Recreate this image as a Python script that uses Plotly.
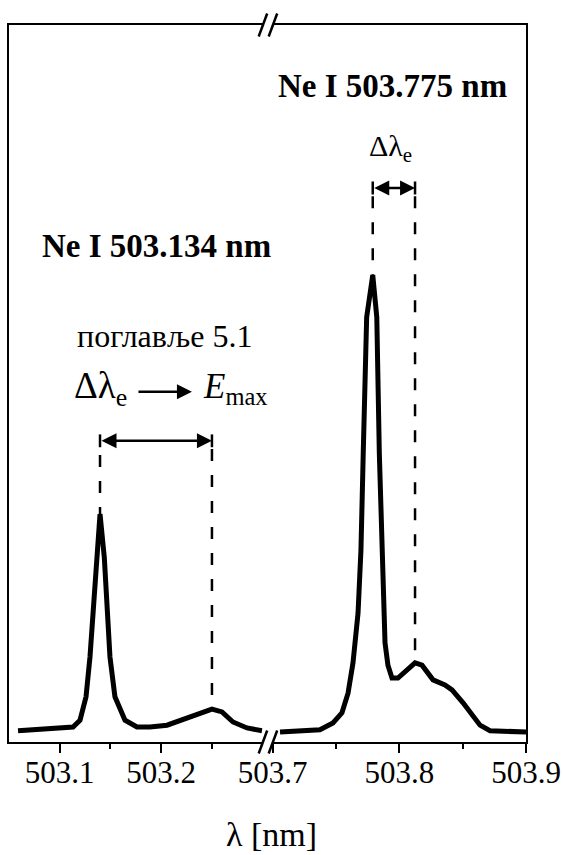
import plotly.graph_objects as go

# ---- data ----
left_wl = [503.0589, 503.0904, 503.1052, 503.1131, 503.1200, 503.1259, 503.1298, 503.1331,
           503.1357, 503.1397, 503.1439, 503.1468, 503.1495, 503.1544, 503.1643, 503.1761,
           503.1889, 503.2057, 503.2254, 503.2411, 503.2500, 503.2599, 503.2707, 503.2845,
           503.2993]
left_int = [0.005, 0.009, 0.011, 0.013, 0.028, 0.079, 0.166, 0.275,
            0.384, 0.478, 0.384, 0.275, 0.166, 0.079, 0.028, 0.013,
            0.013, 0.017, 0.033, 0.046, 0.052, 0.046, 0.024, 0.011,
            0.005]

right_wl = [503.7058, 503.7239, 503.7373, 503.7476, 503.7547, 503.7595, 503.7634, 503.7674,
            503.7697, 503.7715, 503.7742, 503.7790, 503.7822, 503.7842, 503.7871, 503.7887,
            503.7910, 503.7942, 503.7989, 503.8068, 503.8124, 503.8179, 503.8266, 503.8360,
            503.8416, 503.8503, 503.8574, 503.8637, 503.8716, 503.8874, 503.9000]
right_int = [0.002, 0.005, 0.007, 0.022, 0.044, 0.087, 0.153, 0.262,
             0.400, 0.611, 0.908, 1.000, 0.908, 0.611, 0.290, 0.197,
             0.148, 0.120, 0.120, 0.138, 0.153, 0.148, 0.116, 0.105,
             0.094, 0.066, 0.039, 0.017, 0.005, 0.002, 0.002]

left_ticks = [503.1, 503.2]
left_minor = [503.15, 503.25]
right_ticks = [503.7, 503.8, 503.9]
right_minor = [503.75, 503.85]

label_left = "Ne I 503.134 nm"
label_right = "Ne I 503.775 nm"
note_text = "поглавље 5.1"
x_title = "λ [nm]"

# ---- derived positions ----
def local_max(wl, it, lo, hi):
    best = None
    for w, v in zip(wl, it):
        if lo <= w <= hi and (best is None or v > best[1]):
            best = (w, v)
    return best

lp = local_max(left_wl, left_int, 503.05, 503.2)
lb = local_max(left_wl, left_int, 503.2, 503.3)
rp = local_max(right_wl, right_int, 503.7, 503.8)
rb = local_max(right_wl, right_int, 503.8, 503.83)

FONT = "Liberation Serif, Tinos, Times New Roman, DejaVu Serif, serif"
BLACK = "#000000"

fig = go.Figure()
fig.add_trace(go.Scatter(x=left_wl, y=left_int, mode="lines", xaxis="x", yaxis="y",
                         line=dict(color=BLACK, width=5), showlegend=False, hoverinfo="skip"))
fig.add_trace(go.Scatter(x=right_wl, y=right_int, mode="lines", xaxis="x2", yaxis="y2",
                         line=dict(color=BLACK, width=5), showlegend=False, hoverinfo="skip"))

dash = "12px,14px"
arrow_left_y = 0.638
arrow_right_y = 1.19
# dashed guide lines
for (xx, top, bot, xa, ya) in [(lp[0], 0.607, lp[1], "x", "y"),
                               (lb[0], 0.620, lb[1], "x", "y"),
                               (rp[0], 1.172, rp[1], "x2", "y2"),
                               (rb[0], 1.172, rb[1], "x2", "y2")]:
    fig.add_trace(go.Scatter(x=[xx, xx], y=[top, bot], mode="lines", xaxis=xa, yaxis=ya,
                             line=dict(color=BLACK, width=2.5, dash=dash), showlegend=False,
                             hoverinfo="skip"))

# double arrows between guide lines
def dbl_arrow(x0, x1, y, xr, yr):
    fig.add_annotation(x=x1, y=y, ax=x0, ay=y, xref=xr, yref=yr, axref=xr, ayref=yr,
                       text="", showarrow=True, arrowhead=2, arrowside="end+start",
                       arrowsize=1.2, arrowwidth=2.5, arrowcolor=BLACK,
                       standoff=0, startstandoff=0)
    fig.add_trace(go.Scatter(x=[x0, x0, None, x1, x1], y=[y - 0.014, y + 0.014, None, y - 0.014, y + 0.014],
                             mode="lines", xaxis=xr, yaxis=yr,
                             line=dict(color=BLACK, width=2.5), showlegend=False, hoverinfo="skip"))

dbl_arrow(lp[0], lb[0], arrow_left_y, "x", "y")
dbl_arrow(rp[0], rb[0], arrow_right_y, "x2", "y2")

# single arrow  Δλe -> Emax
fig.add_annotation(x=503.2303, y=0.745, ax=503.1761, ay=0.745, xref="x", yref="y",
                   axref="x", ayref="y", text="", showarrow=True, arrowhead=2,
                   arrowsize=1.2, arrowwidth=2.5, arrowcolor=BLACK, standoff=0)

# texts
fig.add_annotation(x=503.1955, y=1.063, xref="x", yref="y", text="<b>%s</b>" % label_left,
                   showarrow=False, font=dict(family=FONT, size=33, color=BLACK))
fig.add_annotation(x=503.7946, y=1.412, xref="x2", yref="y2", text="<b>%s</b>" % label_right,
                   showarrow=False, font=dict(family=FONT, size=33, color=BLACK))
fig.add_annotation(x=503.2037, y=0.867, xref="x", yref="y", text=note_text,
                   showarrow=False, font=dict(family=FONT, size=32, color=BLACK))
fig.add_annotation(x=503.1121, y=0.752, xref="x", yref="y", xanchor="left",
                   text="Δλ<sub>e</sub>", showarrow=False,
                   font=dict(family=FONT, size=37, color=BLACK))
fig.add_annotation(x=503.2391, y=0.752, xref="x", yref="y", xanchor="left",
                   text="<i>E</i><sub>max</sub>", showarrow=False,
                   font=dict(family=FONT, size=35, color=BLACK))
fig.add_annotation(x=503.7744, y=1.278, xref="x2", yref="y2", xanchor="left",
                   text="Δλ<sub>e</sub>", showarrow=False,
                   font=dict(family=FONT, size=30, color=BLACK))
fig.add_annotation(x=0.5068, y=-0.1297, xref="paper", yref="paper", yanchor="middle",
                   text=x_title, showarrow=False, font=dict(family=FONT, size=34, color=BLACK))

# axis break marks
L, R, T, B = 9, 37, 25, 113
W, H = 563, 855
pw, ph = W - L - R, H - T - B
d_left_end = 0.4907
d_right_start = 0.5100
gap_c = (d_left_end + d_right_start) / 2
for yc in (0.0, 1.0):
    for off in (-9.0, 1.0):
        x0 = gap_c + off / pw
        fig.add_shape(type="line", xref="paper", yref="paper",
                      x0=x0, y0=yc - 11.5 / ph, x1=x0 + 8.5 / pw, y1=yc + 11.5 / ph,
                      line=dict(color=BLACK, width=2.5))

axis_common = dict(showline=True, linecolor=BLACK, linewidth=2, mirror=True,
                   ticks="outside", ticklen=9, tickwidth=2, tickcolor=BLACK,
                   showgrid=False, zeroline=False, automargin=False,
                   ticklabelstandoff=-7,
                   tickfont=dict(family=FONT, size=31, color=BLACK))

fig.update_layout(
    width=W, height=H,
    margin=dict(l=L, r=R, t=T, b=B, autoexpand=False),
    paper_bgcolor="white", plot_bgcolor="white",
    showlegend=False, hovermode=False,
    font=dict(family=FONT, color=BLACK),
    xaxis=dict(domain=[0, d_left_end], range=[503.05, 503.3], anchor="y",
               tickvals=left_ticks, ticktext=[f"{v:.1f}" for v in left_ticks],
               minor=dict(tickvals=left_minor, ticks="outside", ticklen=5, tickwidth=2,
                          tickcolor=BLACK, showgrid=False),
               **axis_common),
    xaxis2=dict(domain=[d_right_start, 1], range=[503.7, 503.9], anchor="y2",
                tickvals=right_ticks, ticktext=[f"{v:.1f}" for v in right_ticks],
                minor=dict(tickvals=right_minor, ticks="outside", ticklen=5, tickwidth=2,
                           tickcolor=BLACK, showgrid=False),
                **axis_common),
    yaxis=dict(domain=[0, 1], range=[-0.0197, 1.546], anchor="x", automargin=False,
               showline=True, linecolor=BLACK, linewidth=2, ticks="",
               showticklabels=False, showgrid=False, zeroline=False),
    yaxis2=dict(domain=[0, 1], range=[-0.0197, 1.546], anchor="x2", matches="y",
                automargin=False,
                side="right", showline=True, linecolor=BLACK, linewidth=2, ticks="",
                showticklabels=False, showgrid=False, zeroline=False),
)

fig.write_html("out.html", config={"displayModeBar": False},
               post_script="document.body.style.margin='0';")
